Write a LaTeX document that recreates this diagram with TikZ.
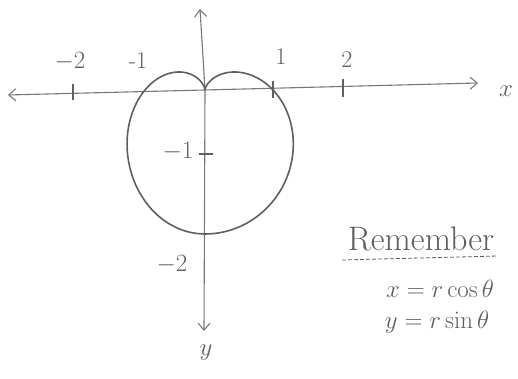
\documentclass[tikz,border=0pt]{standalone}
\usetikzlibrary{arrows.meta}
\definecolor{pencil}{RGB}{95,95,95}
\definecolor{pencillight}{RGB}{120,120,120}
\begin{document}
\begin{tikzpicture}[x=1pt,y=1pt,
  axisline/.style={draw=pencillight,line width=1.1pt,-{Straight Barb[length=7pt,width=12pt]}},
  tickmark/.style={draw=pencil,line width=1.1pt},
  curve/.style={draw=pencil,line width=1.6pt},
  lbl/.style={text=pencil,font=\fontsize{24}{24}\selectfont,inner sep=0pt},
  note/.style={text=pencil,font=\fontsize{26}{26}\selectfont,inner sep=0pt}]
\useasboundingbox (0,0) rectangle (518,379);
% axes
\coordinate (o) at (205,289);
\coordinate (xl) at (8,284);
\coordinate (xr) at (478,296);
\coordinate (yt) at (200,370);
\coordinate (yb) at (204,48);
\draw[axisline] (o) -- (xl);
\draw[axisline] (o) -- (xr);
\draw[axisline] (o) -- (yt);
\draw[axisline] (o) -- (yb);
% ticks
\coordinate (t1a) at (73,295); \coordinate (t1b) at (73,279);
\coordinate (t2a) at (273,298); \coordinate (t2b) at (273,281);
\coordinate (t3a) at (343,300); \coordinate (t3b) at (343,282);
\coordinate (t4a) at (199,225); \coordinate (t4b) at (213,225);
\draw[tickmark] (t1a) -- (t1b);
\draw[tickmark] (t2a) -- (t2b);
\draw[tickmark] (t3a) -- (t3b);
\draw[tickmark] (t4a) -- (t4b);
% cardioid r = 1 - sin(theta)
\draw[curve] plot[domain=0:360,samples=240,smooth]
  ({205+(cos(\x)>0 ? 68 : 60)*cos(\x)*(1-sin(\x))},{289+72*sin(\x)*(1-sin(\x))});
% labels
\node[lbl] (lm2) at (70,317) {$-2$};
\node[lbl] (lm1) at (138,318) {-1};
\node[lbl] (l1) at (281,322) {1};
\node[lbl] (l2) at (347,319) {2};
\node[lbl,font=\fontsize{30}{30}\selectfont] (lx) at (506,288) {$x$};
\node[lbl] (ly1) at (178,227) {$-1$};
\node[lbl] (ly2) at (172,114) {$-2$};
\node[lbl,font=\fontsize{32}{32}\selectfont] (ly) at (206,26) {$y$};
\node[note,font=\fontsize{34}{34}\selectfont] (rem) at (421,140) {Remember};
\coordinate (ua) at (342,119);
\coordinate (ub) at (498,123);
\draw[pencil,line width=0.8pt,dash pattern=on 4pt off 2pt] (ua) -- (ub);
\node[note] (eq1) at (440,90) {$x=r\cos\theta$};
\node[note] (eq2) at (437,57) {$y=r\sin\theta$};
\end{tikzpicture}
\end{document}
